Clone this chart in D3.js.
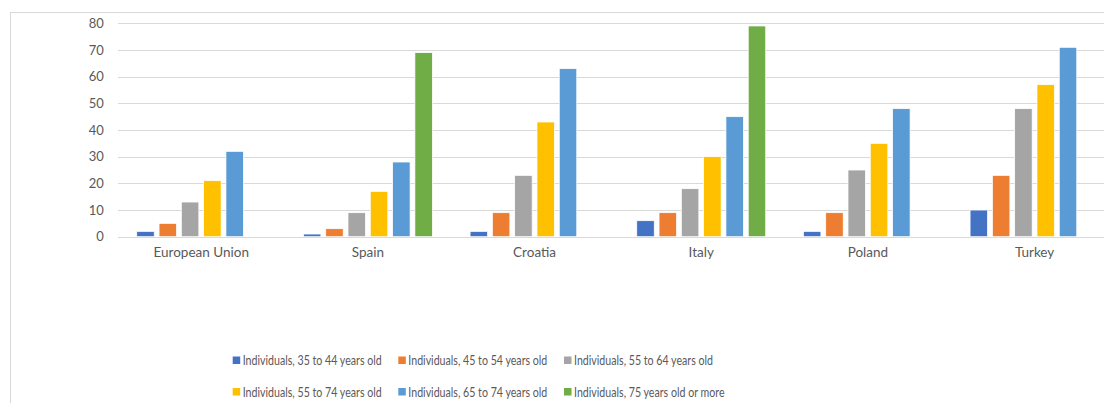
<!DOCTYPE html>
<html>
<head>
<meta charset="utf-8">
<script src="https://cdn.jsdelivr.net/npm/d3@7"></script>
<style>
  body { margin: 0; background: #fff; }
  svg text { font-family: Lato, "Open Sans", sans-serif; fill: #595959; }
</style>
</head>
<body>
<div id="chart"></div>
<script>
const countries = ["European Union", "Spain", "Croatia", "Italy", "Poland", "Turkey"];
const seriesNames = [
  "Individuals, 35 to 44 years old",
  "Individuals, 45 to 54 years old",
  "Individuals, 55 to 64 years old",
  "Individuals, 55 to 74 years old",
  "Individuals, 65 to 74 years old",
  "Individuals, 75 years old or more"
];
const colors = ["#4472C4", "#ED7D31", "#A5A5A5", "#FFC000", "#5B9BD5", "#70AD47"];
// one array per series, in the order of countries
const age35to44 = [2, 1, 2, 6, 2, 10];
const age45to54 = [5, 3, 9, 9, 9, 23];
const age55to64 = [13, 9, 23, 18, 25, 48];
const age55to74 = [21, 17, 43, 30, 35, 57];
const age65to74 = [32, 28, 63, 45, 48, 71];
const age75plus = [null, 69, null, 79, null, null];
const yTicks = [0, 10, 20, 30, 40, 50, 60, 70, 80];

const allSeries = [age35to44, age45to54, age55to64, age55to74, age65to74, age75plus];

const size = {width: 1104, height: 403};
const margin = {top: 23.3, left: 117.9, bottom: 166.3};
const plotW = 1000;
const plotH = size.height - margin.top - margin.bottom;

const svg = d3.select("#chart").append("svg")
    .attr("width", size.width)
    .attr("height", size.height);

// chart frame (runs off the picture on the right and bottom)
svg.append("rect")
    .attr("x", 10.5).attr("y", 12.5)
    .attr("width", 1200).attr("height", 500)
    .attr("fill", "none")
    .attr("stroke", "#d9d9d9");

const x = d3.scaleBand(countries, [margin.left, margin.left + plotW]);
const xInner = d3.scaleBand(d3.range(seriesNames.length), [0, x.bandwidth()])
    .paddingInner(0.215)
    .paddingOuter(0.845);
const y = d3.scaleLinear([0, 80], [margin.top + plotH, margin.top]);

// gridlines
svg.append("g")
    .selectAll("line")
    .data(yTicks)
    .join("line")
    .attr("x1", margin.left)
    .attr("x2", margin.left + plotW)
    .attr("y1", d => Math.round(y(d)) + 0.5)
    .attr("y2", d => Math.round(y(d)) + 0.5)
    .attr("stroke", "#d9d9d9")
    .attr("stroke-width", 1);

// y axis labels
const yAxis = svg.append("g")
    .attr("transform", `translate(${margin.left - 14},0)`)
    .call(d3.axisLeft(y).tickValues(yTicks).tickSize(0).tickPadding(0));
yAxis.select(".domain").remove();
yAxis.selectAll("text")
    .attr("font-size", 13)
    .attr("font-family", null)
    .attr("fill", null);

// bars
const groups = svg.append("g")
    .selectAll("g")
    .data(countries)
    .join("g")
    .attr("transform", d => `translate(${x(d)},0)`);

groups.selectAll("rect")
    .data((c, ci) => allSeries.map((s, si) => ({si, v: s[ci]})).filter(d => d.v != null))
    .join("rect")
    .attr("x", d => xInner(d.si))
    .attr("width", xInner.bandwidth())
    .attr("y", d => y(d.v))
    .attr("height", d => y(0) - y(d.v))
    .attr("fill", d => colors[d.si])
    .attr("stroke", "#fff")
    .attr("stroke-width", 0.75);

// x axis labels
const xAxis = svg.append("g")
    .attr("transform", `translate(0,${y(0) + 11})`)
    .call(d3.axisBottom(x).tickSize(0).tickPadding(0));
xAxis.select(".domain").remove();
xAxis.selectAll("text")
    .attr("font-size", 13.5)
    .attr("font-family", null)
    .attr("fill", null);

// legend, 3 per row
const legendX = [232.7, 398.3, 564];
const legendY = [356.5, 388];
const legend = svg.append("g")
    .selectAll("g")
    .data(seriesNames)
    .join("g")
    .attr("transform", (d, i) => `translate(${legendX[i % 3]},${legendY[Math.floor(i / 3)]})`);
legend.append("rect")
    .attr("width", 7.5).attr("height", 7.5)
    .attr("fill", (d, i) => colors[i]);
const legendText = legend.append("text")
    .attr("x", 10)
    .attr("y", 4)
    .attr("dy", "0.35em")
    .attr("font-size", 13.5)
    .text(d => d);
// squeeze to the narrower width of the original font
const k = 139 / legendText.node().getComputedTextLength();
legendText.each(function() {
    const w = this.getComputedTextLength();
    d3.select(this).attr("textLength", w * k).attr("lengthAdjust", "spacingAndGlyphs");
});
</script>
</body>
</html>
